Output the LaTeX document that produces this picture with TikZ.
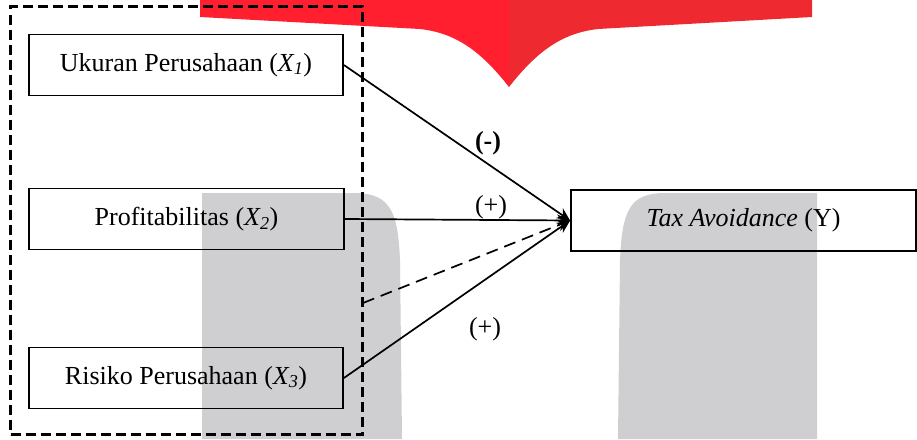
\documentclass[tikz,border=0pt]{standalone}
\usepackage{fontspec}
\setmainfont{Liberation Serif}
\usetikzlibrary{arrows.meta}
\definecolor{wmred}{HTML}{FF1F2F}
\definecolor{wmred2}{HTML}{EE2A30}
\definecolor{wmgray}{HTML}{CFCFD1}
\tikzset{
  varbox/.style={draw=black, line width=1.8pt, minimum height=61pt, inner sep=0pt, font=\fontsize{26}{30}\selectfont},
  conn/.style={line width=1.7pt, -{Stealth[length=13pt,width=12pt]}},
  lbl/.style={font=\fontsize{26}{30}\selectfont, inner sep=0pt},
  grpbox/.style={draw=black, line width=3.5pt, dash pattern=on 10pt off 5pt},
}
\begin{document}
\begin{tikzpicture}[x=1pt,y=-1pt]
\useasboundingbox (0,0) rectangle (917,439);
% watermark shapes
\fill[wmred] (200,0) -- (200,17) -- (420,29) .. controls (455,33) and (480,50) .. (509,87) -- (509,0) -- cycle;
\fill[wmred2] (509,0) -- (509,87) .. controls (538,50) and (563,33) .. (598,29) -- (812,17) -- (812,0) -- cycle;
\fill[wmgray] (202,439) -- (202,193) -- (355,193) .. controls (392,193) and (398,215) .. (400,260) -- (402,439) -- cycle;
\fill[wmgray] (618,439) -- (620,260) .. controls (622,210) and (630,193) .. (665,193) -- (817,193) -- (817,439) -- cycle;
% group box
\node[grpbox, minimum width=352pt, minimum height=428pt, inner sep=0pt] (grp) at (186.5,220.5) {};
% boxes
\node[varbox, minimum width=314pt] (x1) at (186,65) {Ukuran Perusahaan (\textit{X\textsubscript{1}})};
\node[varbox, minimum width=315pt] (x2) at (186.5,219) {Profitabilitas (\textit{X\textsubscript{2}})};
\node[varbox, minimum width=314pt] (x3) at (186,378) {Risiko Perusahaan (\textit{X\textsubscript{3}})};
\node[varbox, minimum width=345pt] (y) at (743.5,220.5) {\textit{Tax Avoidance} (Y)};
\coordinate (d) at (363,303);
% connectors
\draw[conn] (x1.east) -- (y.west);
\draw[conn] (x2.east) -- (y.west);
\draw[conn] (x3.east) -- (y.west);
\draw[conn, dash pattern=on 12pt off 7pt] (d) -- (y.west);
% labels
\node[lbl] (l1) at (488,143) {\textbf{(-)}};
\node[lbl] (l2) at (491,207) {(+)};
\node[lbl] (l3) at (485,329) {(+)};
\end{tikzpicture}
\end{document}
